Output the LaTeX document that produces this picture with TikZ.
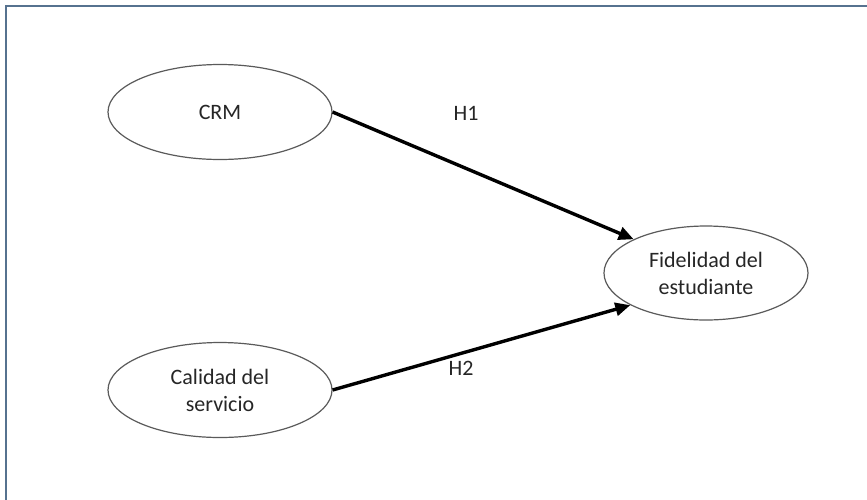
\documentclass[tikz,border=0pt]{standalone}
\usepackage{fontspec}
\setmainfont{Carlito}
\usetikzlibrary{shapes.geometric,arrows.meta}
\definecolor{frameblue}{HTML}{56728F}
\definecolor{ellgray}{HTML}{5A5A5A}
\definecolor{txtgray}{HTML}{262626}
\begin{document}
\begin{tikzpicture}[x=1pt,y=-1pt,
  construct/.style={ellipse,draw=ellgray,line width=1.2pt,minimum width=224pt,minimum height=95pt,inner sep=0pt,align=center,text=txtgray,font=\fontsize{22}{27}\selectfont},
  hyplabel/.style={text=txtgray,font=\fontsize{22}{27}\selectfont,inner sep=0pt},
  pathline/.style={line width=3.4pt,-{Triangle[length=15pt,width=13pt]}}]
\useasboundingbox (0,0) rectangle (867,499);
\fill[white] (0,0) rectangle (867,499);
\draw[frameblue,line width=2pt] (6,6) rectangle (880,520);
\node[construct] (crm) at (220,112) {CRM};
\node[construct] (cal) at (220,390) {Calidad del\\servicio};
\node[construct,minimum width=204pt,minimum height=94pt] (fid) at (706,273) {Fidelidad del\\estudiante};
\draw[pathline] (crm.east) -- (fid.155);
\draw[pathline] (cal.east) -- (fid.203);
\node[hyplabel] (h1) at (466,113) {H1};
\node[hyplabel] (h2) at (461,368) {H2};
\end{tikzpicture}
\end{document}
